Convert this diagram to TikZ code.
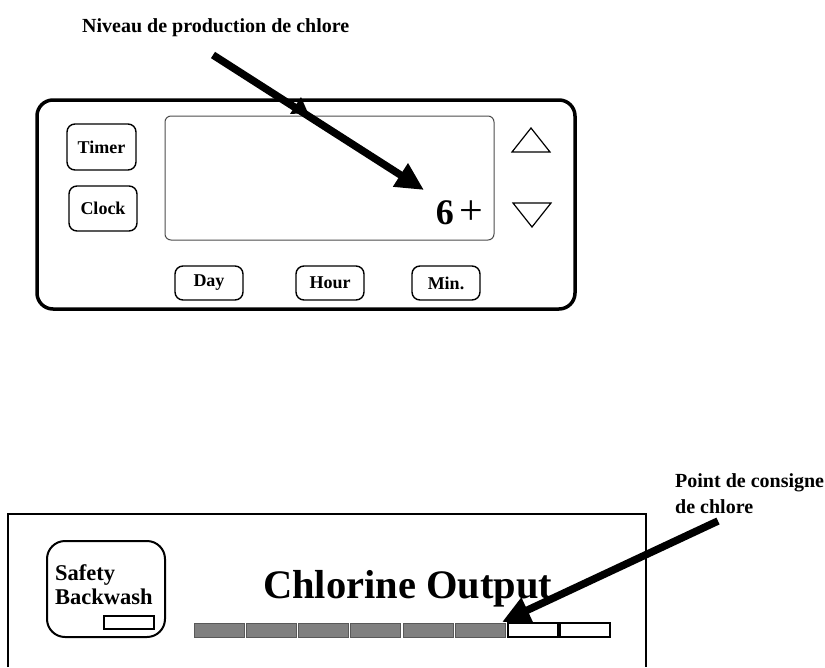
\documentclass[tikz,border=0pt]{standalone}
\usepackage{fontspec}
\setmainfont{Liberation Serif}
\usetikzlibrary{arrows.meta}
\begin{document}
\begin{tikzpicture}[x=1pt,y=-1pt,
  key/.style={draw,line width=1.4pt,rounded corners=8pt,inner sep=0pt,
    font=\fontsize{18}{20}\selectfont\bfseries},
  pointer/.style={line width=7.5pt,-{Triangle[length=28pt 0 0,width=26pt 0 0]}},
  lbl/.style={font=\fontsize{20}{26}\selectfont\bfseries,inner sep=0pt,anchor=base west},
  seg/.style={draw=black!65,fill=black!50,line width=1pt},
  segoff/.style={draw=black,fill=white,line width=1.5pt},
  arrowkey/.style={line width=1.2pt,line join=miter}]
\useasboundingbox (0,0) rectangle (825,667);

% ---- timer / clock control panel ----
\draw[line width=3.5pt,rounded corners=16pt] (37,100) rectangle (575,309);
\draw[draw=black!70,line width=1pt,rounded corners=6pt] (165,116) rectangle (494,240);

\node[key,minimum width=69pt,minimum height=46pt] (timer) at (101.5,147) {Timer};
\node[key,minimum width=68pt,minimum height=45pt] (clock) at (103,208.5) {Clock};
\node[key,minimum width=68pt,minimum height=34pt] (day)  at (209,283) {Day};
\node[key,minimum width=68pt,minimum height=34pt] (hour) at (330,283) {Hour};
\node[key,minimum width=68pt,minimum height=34pt] (min)  at (446,283) {Min.};

\draw[arrowkey] (512,152) -- (550,152) -- (531,128) -- cycle;
\draw[arrowkey] (513,203) -- (551,203) -- (532,227) -- cycle;

\node[anchor=base east,inner sep=0pt,font=\fontsize{36}{36}\selectfont\bfseries] (level) at (454,224) {6};
\node[anchor=base west,inner sep=0pt,font=\fontsize{42}{42}\selectfont] (plus) at (459,224) {+};

% ---- chlorine production label and pointer ----
\node[lbl] (prodlabel) at (82,32) {Niveau de production de chlore};
\coordinate (prodtail) at (213,55);
\coordinate (prodtip) at (424,190);
\draw[pointer] (prodtail) -- (prodtip);
\fill (290,114) -- (301,97) -- (308,113) -- cycle;

% ---- chlorine output panel ----
\draw[line width=2pt] (8,667) -- (8,514) -- (646,514) -- (646,667);
\node[draw,line width=2pt,rounded corners=18pt,minimum width=118pt,minimum height=96pt,inner sep=0pt] (backwash) at (106,589) {};
\node[anchor=base west,inner sep=0pt,font=\fontsize{22.5}{24}\selectfont\bfseries] (backwashtext) at (55,580) {Safety};
\node[anchor=base west,inner sep=0pt,font=\fontsize{22.5}{24}\selectfont\bfseries] (backwashtext2) at (55,604) {Backwash};
\draw[line width=1.5pt] (104,616) rectangle (154,629);

\node[anchor=base west,inner sep=0pt,font=\fontsize{40.5}{40}\selectfont\bfseries] (title) at (263,598) {Chlorine Output};

\foreach \i in {0,...,5}{
  \draw[seg] ({194+52.3*\i},623) rectangle ({244+52.3*\i},637);
}
\foreach \i in {6,7}{
  \draw[segoff] ({194+52.3*\i},623) rectangle ({244+52.3*\i},637);
}

% ---- set point label and pointer ----
\node[lbl] (setlabel) at (675,487) {Point de consigne};
\node[lbl] (setlabel2) at (675,513) {de chlore};
\coordinate (settail) at (718,521);
\coordinate (settip) at (502,622);
\draw[pointer] (settail) -- (settip);
\end{tikzpicture}
\end{document}
